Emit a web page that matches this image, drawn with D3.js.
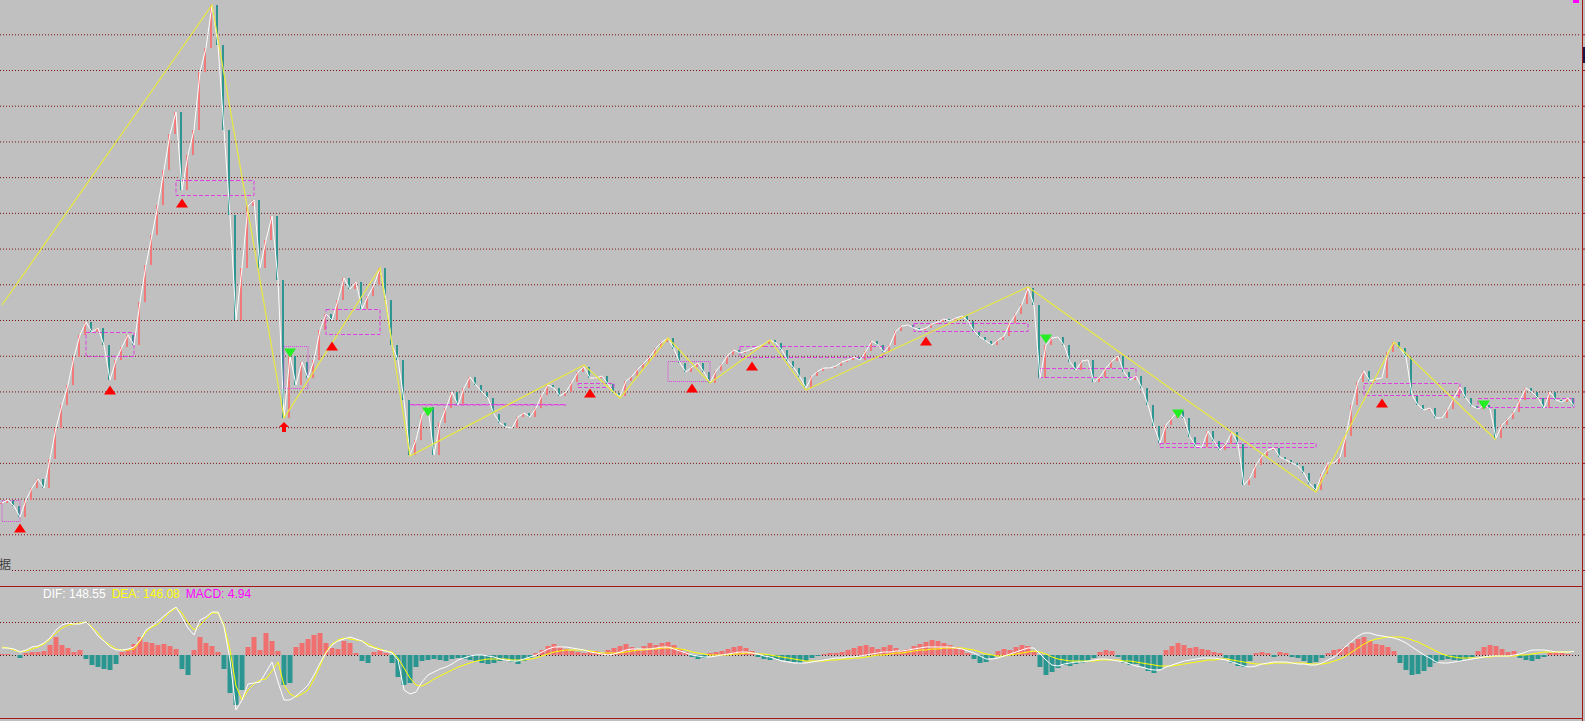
<!DOCTYPE html>
<html>
<head>
<meta charset="utf-8">
<script src="https://cdn.jsdelivr.net/npm/d3@7"></script>
<style>
html, body { margin: 0; padding: 0; background: #c0c0c0; overflow: hidden; }
svg { display: block; }
</style>
</head>
<body>
<div id="chart"></div>
<script>
// closing prices, one per bar
const closes = [1469,1490,1448,1371,1490,1574,1637,1574,1777,1994,
2155,2295,2491,2645,2736,2666,2694,2575,2330,2470,
2561,2645,2575,2876,3135,3345,3555,3800,4052,4206,
3660,3905,4080,4486,4654,4955,4675,4080,3485,2750,
3114,3548,3590,3114,3310,3478,3030,2064,2498,2295,
2456,2344,2470,2680,2792,2750,2890,3044,2967,3016,
2827,2918,2995,3114,2890,2575,2470,2190,1805,1910,
2085,2141,1805,2029,2134,2246,2155,2274,2351,2295,
2246,2204,2092,2029,2001,1994,2071,2099,2071,2134,
2225,2295,2274,2218,2246,2316,2386,2421,2344,2344,
2358,2302,2239,2218,2323,2358,2407,2449,2491,2554,
2596,2624,2547,2449,2386,2421,2449,2386,2309,2393,
2442,2505,2540,2519,2533,2547,2561,2582,2610,2589,
2540,2463,2414,2351,2274,2358,2393,2414,2414,2428,
2456,2470,2491,2470,2533,2603,2575,2526,2575,2673,
2708,2715,2694,2680,2694,2722,2736,2757,2743,2764,
2778,2743,2673,2631,2603,2575,2610,2638,2729,2792,
2862,2974,2855,2344,2575,2624,2631,2575,2456,2400,
2463,2470,2316,2351,2414,2463,2498,2386,2330,2358,
2274,2155,2008,1889,2015,2064,2113,2064,1931,1868,
1861,1973,1903,1840,1882,1966,1882,1595,1644,1735,
1798,1840,1854,1791,1770,1749,1728,1679,1602,1560,
1672,1749,1749,1791,1938,2155,2316,2393,2323,2337,
2344,2526,2596,2554,2491,2225,2155,2120,2134,2064,
2064,2127,2204,2281,2204,2148,2127,2155,2127,1924,
2015,2057,2106,2190,2274,2246,2204,2134,2246,2190,
2176,2204,2148];

// zigzag turning points [bar, price]
const zigzag = [[0,2855],[35,4955],[47,2064],[63,3114],[68,1798],[97,2435],[103,2204],
  [111,2624],[118,2309],[128,2610],[134,2260],[171,2981],[219,1546],[232,2596],[249,1910]];

// pivot zones [first bar, last bar, top price, bottom price]
const zones = [[0,3,1490,1343],[14,22,2666,2498],[29,42,3730,3625],[47,51,2568,2274],
  [54,63,2827,2652],[68,94,2162,2162],[96,102,2309,2281],[111,118,2463,2323],
  [123,147,2568,2491],[152,171,2729,2673],[173,189,2414,2351],[193,219,1889,1861],
  [227,243,2309,2225],[246,262,2204,2141]];

// signals [bar, kind, price level]
const signals = [[3,"up",1294],[18,"up",2260],[30,"up",3569],[47,"arrow",2001],[48,"down",2519],
  [55,"up",2568],[71,"down",2106],[98,"up",2239],[115,"up",2274],[125,"up",2428],
  [154,"up",2603],[174,"down",2617],[196,"down",2092],[230,"up",2169],[247,"down",2155]];

const dif = [280,280,240,120,200,320,360,480,680,1000,
1200,1280,1240,1240,1320,1080,760,560,320,200,
200,240,320,600,1000,1160,1360,1560,1760,1920,
1520,1080,800,1400,1520,1720,1720,1120,-200,-2200,
-1800,-1160,-1120,-1080,-680,-280,-1080,-1800,-1800,-1640,
-1440,-1200,-800,-320,80,400,560,640,720,640,
560,360,280,200,160,80,-200,-1400,-1560,-1480,
-1080,-800,-680,-560,-480,-360,-200,-120,-40,0,
0,-40,-80,-160,-200,-240,-240,-160,-80,0,
120,240,320,320,320,280,240,200,120,80,
40,0,40,120,200,240,240,240,240,280,
320,320,240,160,80,0,-40,-80,-80,-40,
0,40,80,120,120,80,40,-40,-80,-160,
-240,-280,-320,-320,-320,-280,-240,-200,-160,-120,
-120,-80,-80,-40,0,40,80,120,120,160,
160,200,240,280,320,320,320,320,320,280,
240,160,80,-40,-160,-160,-120,-40,40,120,
200,280,280,40,-200,-400,-440,-360,-320,-280,
-280,-240,-200,-160,-160,-200,-240,-280,-360,-440,
-480,-560,-600,-600,-480,-400,-320,-240,-200,-160,
-120,-120,-120,-160,-200,-280,-360,-440,-480,-440,
-360,-320,-280,-280,-280,-320,-360,-360,-400,-400,
-320,-200,-80,120,360,560,760,880,880,800,
760,720,680,600,480,320,160,0,-120,-280,
-320,-320,-280,-240,-200,-160,-120,-80,-40,-40,
-40,-40,0,40,120,200,200,200,160,120,
120,120,148.55];

const dea = [320,280,200,120,160,240,320,440,640,880,
1080,1200,1240,1280,1320,1120,880,560,400,240,
200,200,240,560,920,1120,1240,1480,1720,1880,
1680,1280,1000,1200,1440,1680,1680,1200,200,-1240,
-1800,-1400,-1160,-1000,-960,-640,-280,-1200,-1560,-1680,
-1560,-1400,-960,-440,120,440,600,680,640,600,
560,440,320,240,160,120,-120,-520,-920,-1200,
-1240,-1120,-960,-840,-720,-600,-480,-400,-320,-240,
-200,-160,-160,-160,-160,-200,-200,-200,-160,-120,
-40,40,120,160,200,200,200,200,160,120,
80,80,80,80,120,160,200,200,240,240,
280,280,280,240,200,120,80,40,0,0,
0,0,40,40,80,80,40,40,0,-40,
-80,-120,-160,-200,-240,-240,-240,-240,-200,-200,
-160,-160,-120,-120,-80,-40,0,0,40,80,
80,120,160,200,200,240,240,280,280,280,
280,240,200,120,40,0,-40,-40,0,40,
80,120,160,120,40,-80,-160,-200,-240,-240,
-240,-240,-240,-200,-200,-200,-200,-240,-240,-280,
-320,-360,-400,-440,-440,-440,-400,-360,-320,-280,
-240,-200,-200,-160,-160,-200,-240,-280,-320,-360,
-360,-360,-320,-320,-320,-320,-320,-320,-360,-360,
-360,-320,-240,-160,-40,120,280,440,560,640,
680,720,720,720,680,600,520,400,280,160,
40,-40,-80,-120,-120,-120,-120,-80,-80,-40,
-40,-40,-40,0,0,40,80,120,120,120,
120,120,146.08];

const macd = [40,40,0,-120,80,120,120,160,400,720,
400,280,120,200,-160,-400,-480,-560,-600,-360,
120,200,440,720,520,480,400,440,360,240,
-560,-800,200,720,480,360,120,-560,-1520,-2000,
-1400,320,720,200,880,560,160,-1200,-1120,320,
480,640,800,880,480,280,240,560,480,80,
-240,-320,120,200,80,-320,-880,-1200,-1120,-480,
-240,-200,-160,-200,-240,-160,-120,-160,-200,-240,
-320,-360,-320,-240,-200,-280,-360,-240,-120,80,
200,360,440,320,240,160,120,80,120,160,
80,200,280,360,440,320,240,360,480,400,
480,520,400,240,120,-80,-160,-120,80,120,
160,240,320,360,280,160,-80,-160,-200,-160,
-200,-240,-280,-320,-240,-120,-40,40,80,80,
120,200,280,360,400,320,240,320,400,280,
200,240,360,440,520,600,560,480,400,320,
240,80,-160,-320,-280,-120,160,240,200,320,
400,360,120,-480,-800,-680,-520,-400,-440,-360,
-320,-240,-120,120,200,160,-80,-320,-400,-360,
-480,-640,-720,-560,200,360,480,400,280,320,
240,200,120,80,-120,-320,-440,-480,-240,80,
120,80,-80,120,80,-80,-120,-240,-320,-280,
-120,80,200,240,320,480,640,720,560,440,
400,320,160,-320,-600,-800,-760,-640,-480,-320,
-200,-160,-200,-240,-160,-80,160,320,400,360,
240,120,160,-120,-200,-240,-160,-80,80,120,
80,40,4.94];

const priceGrid = [1000,1250,1500,1750,2000,2250,2500,2750,3000,3250,3500,3750,4000,4250,4500,4750];
const macdGrid = [0, 1320];

const W = 1585, H = 721;
const svg = d3.select("#chart").append("svg").attr("width", W).attr("height", H);
svg.append("rect").attr("width", W).attr("height", H).attr("fill", "#c0c0c0");

const x = d3.scaleLinear().domain([0, closes.length - 1]).range([2, 1574]);
const y = d3.scaleLinear().domain([1000, 4750]).range([570, 34.3]);
const ym = d3.scaleLinear().domain([-2520, 2760]).range([718, 586]);

// dotted grid
const g1 = svg.append("g").call(d3.axisRight(y).tickValues(priceGrid).tickSize(1581).tickFormat(""));
g1.select(".domain").remove();
g1.selectAll("line").attr("stroke", "#7a1010").attr("stroke-dasharray", "1,2");

const g2 = svg.append("g").call(d3.axisRight(ym).tickValues(macdGrid).tickSize(1581).tickFormat(""));
g2.select(".domain").remove();
g2.selectAll("line").attr("stroke", d => d === 0 ? "#402020" : "#7a1010").attr("stroke-dasharray", "1,2");

// small ticks on the right edge
const g3 = svg.append("g").attr("transform", "translate(1582,0)")
  .call(d3.axisRight(y).tickValues(priceGrid).tickSize(3).tickFormat(""));
g3.select(".domain").remove();
g3.selectAll("line").attr("stroke", "#a01818");

// candles (open = previous close)
const bars = closes.map((c, i) => ({ i, o: i ? closes[i - 1] : c, c }));
svg.append("g").selectAll("rect").data(bars).join("rect")
  .attr("x", d => x(d.i) - 2)
  .attr("width", 2)
  .attr("y", d => y(Math.max(d.o, d.c)))
  .attr("height", d => Math.max(1, Math.abs(y(d.o) - y(d.c))))
  .attr("fill", d => d.c >= d.o ? "#f07a7a" : "#2f9590");

// pivot zones
const dotted = new Set([0, 3, 7]);
svg.append("g").selectAll("rect").data(zones).join("rect")
  .attr("x", d => x(d[0]))
  .attr("y", d => y(d[2]) + 0.5)
  .attr("width", d => x(d[1]) - x(d[0]))
  .attr("height", d => Math.max(0.5, y(d[3]) - y(d[2])))
  .attr("fill", "none")
  .attr("stroke", "#e040e0")
  .attr("stroke-dasharray", (d, i) => dotted.has(i) ? "1,1" : "4,2");

// price line
svg.append("path").datum(closes)
  .attr("fill", "none").attr("stroke", "#ffffff").attr("stroke-width", 1)
  .attr("d", d3.line().x((d, i) => x(i)).y(d => y(d)));

// zigzag
svg.append("path").datum(zigzag)
  .attr("fill", "none").attr("stroke", "#e8e840").attr("stroke-width", 1.2)
  .attr("d", d3.line().x(d => x(d[0])).y(d => y(d[1])));

// signals
const shapes = {
  up: "M-6,4.5L6,4.5L0,-4.5Z",
  down: "M-6,-4.5L6,-4.5L0,4.5Z",
  arrow: "M0,-5L5,0L2,0L2,5L-2,5L-2,0L-5,0Z"
};
svg.append("g").selectAll("path").data(signals).join("path")
  .attr("transform", d => `translate(${x(d[0])},${y(d[2])})`)
  .attr("d", d => shapes[d[1]])
  .attr("fill", d => d[1] === "down" ? "#22ee22" : "#ff0000");

// label at bottom-left of main panel
svg.append("rect").attr("x", 0).attr("y", 556).attr("width", 11).attr("height", 17).attr("fill", "#c0c0c0");
svg.append("text").attr("x", -1).attr("y", 569)
  .attr("font-family", "'Noto Sans CJK SC', sans-serif").attr("font-size", 12)
  .attr("fill", "#404040").text("据");

// MACD histogram
svg.append("g").selectAll("rect").data(macd).join("rect")
  .attr("x", (d, i) => x(i) - 2.5)
  .attr("width", 5)
  .attr("y", d => ym(Math.max(0, d)))
  .attr("height", d => Math.abs(ym(d) - ym(0)))
  .attr("fill", d => d >= 0 ? "#f07070" : "#2b9690");

svg.append("path").datum(dea)
  .attr("fill", "none").attr("stroke", "#ffff00").attr("stroke-width", 1)
  .attr("d", d3.line().x((d, i) => x(i)).y(d => ym(d)));
svg.append("path").datum(dif)
  .attr("fill", "none").attr("stroke", "#ffffff").attr("stroke-width", 1)
  .attr("d", d3.line().x((d, i) => x(i)).y(d => ym(d)));

// panel borders
svg.append("line").attr("x1", 0).attr("x2", 1582).attr("y1", 586.5).attr("y2", 586.5).attr("stroke", "#a01818");
svg.append("line").attr("x1", 0).attr("x2", 1582).attr("y1", 718.5).attr("y2", 718.5).attr("stroke", "#a01818");
svg.append("line").attr("x1", 1582.5).attr("x2", 1582.5).attr("y1", 0).attr("y2", H).attr("stroke", "#a01818");
svg.append("rect").attr("x", 1583).attr("y", 47).attr("width", 3).attr("height", 16).attr("fill", "#18184a");
svg.append("rect").attr("x", 1573).attr("y", 0).attr("width", 6).attr("height", 3).attr("fill", "#ff00ff");

// MACD legend
const last = closes.length - 1;
const legend = svg.append("text").attr("x", 43).attr("y", 598)
  .attr("font-family", "'Liberation Sans', Arial, sans-serif").attr("font-size", 12);
legend.append("tspan").attr("fill", "#ffffff").text(`DIF: ${dif[last].toFixed(2)}`);
legend.append("tspan").attr("fill", "#ffff00").attr("dx", 6).text(`DEA: ${dea[last].toFixed(2)}`);
legend.append("tspan").attr("fill", "#ff00ff").attr("dx", 6).text(`MACD: ${macd[last].toFixed(2)}`);
</script>
</body>
</html>
